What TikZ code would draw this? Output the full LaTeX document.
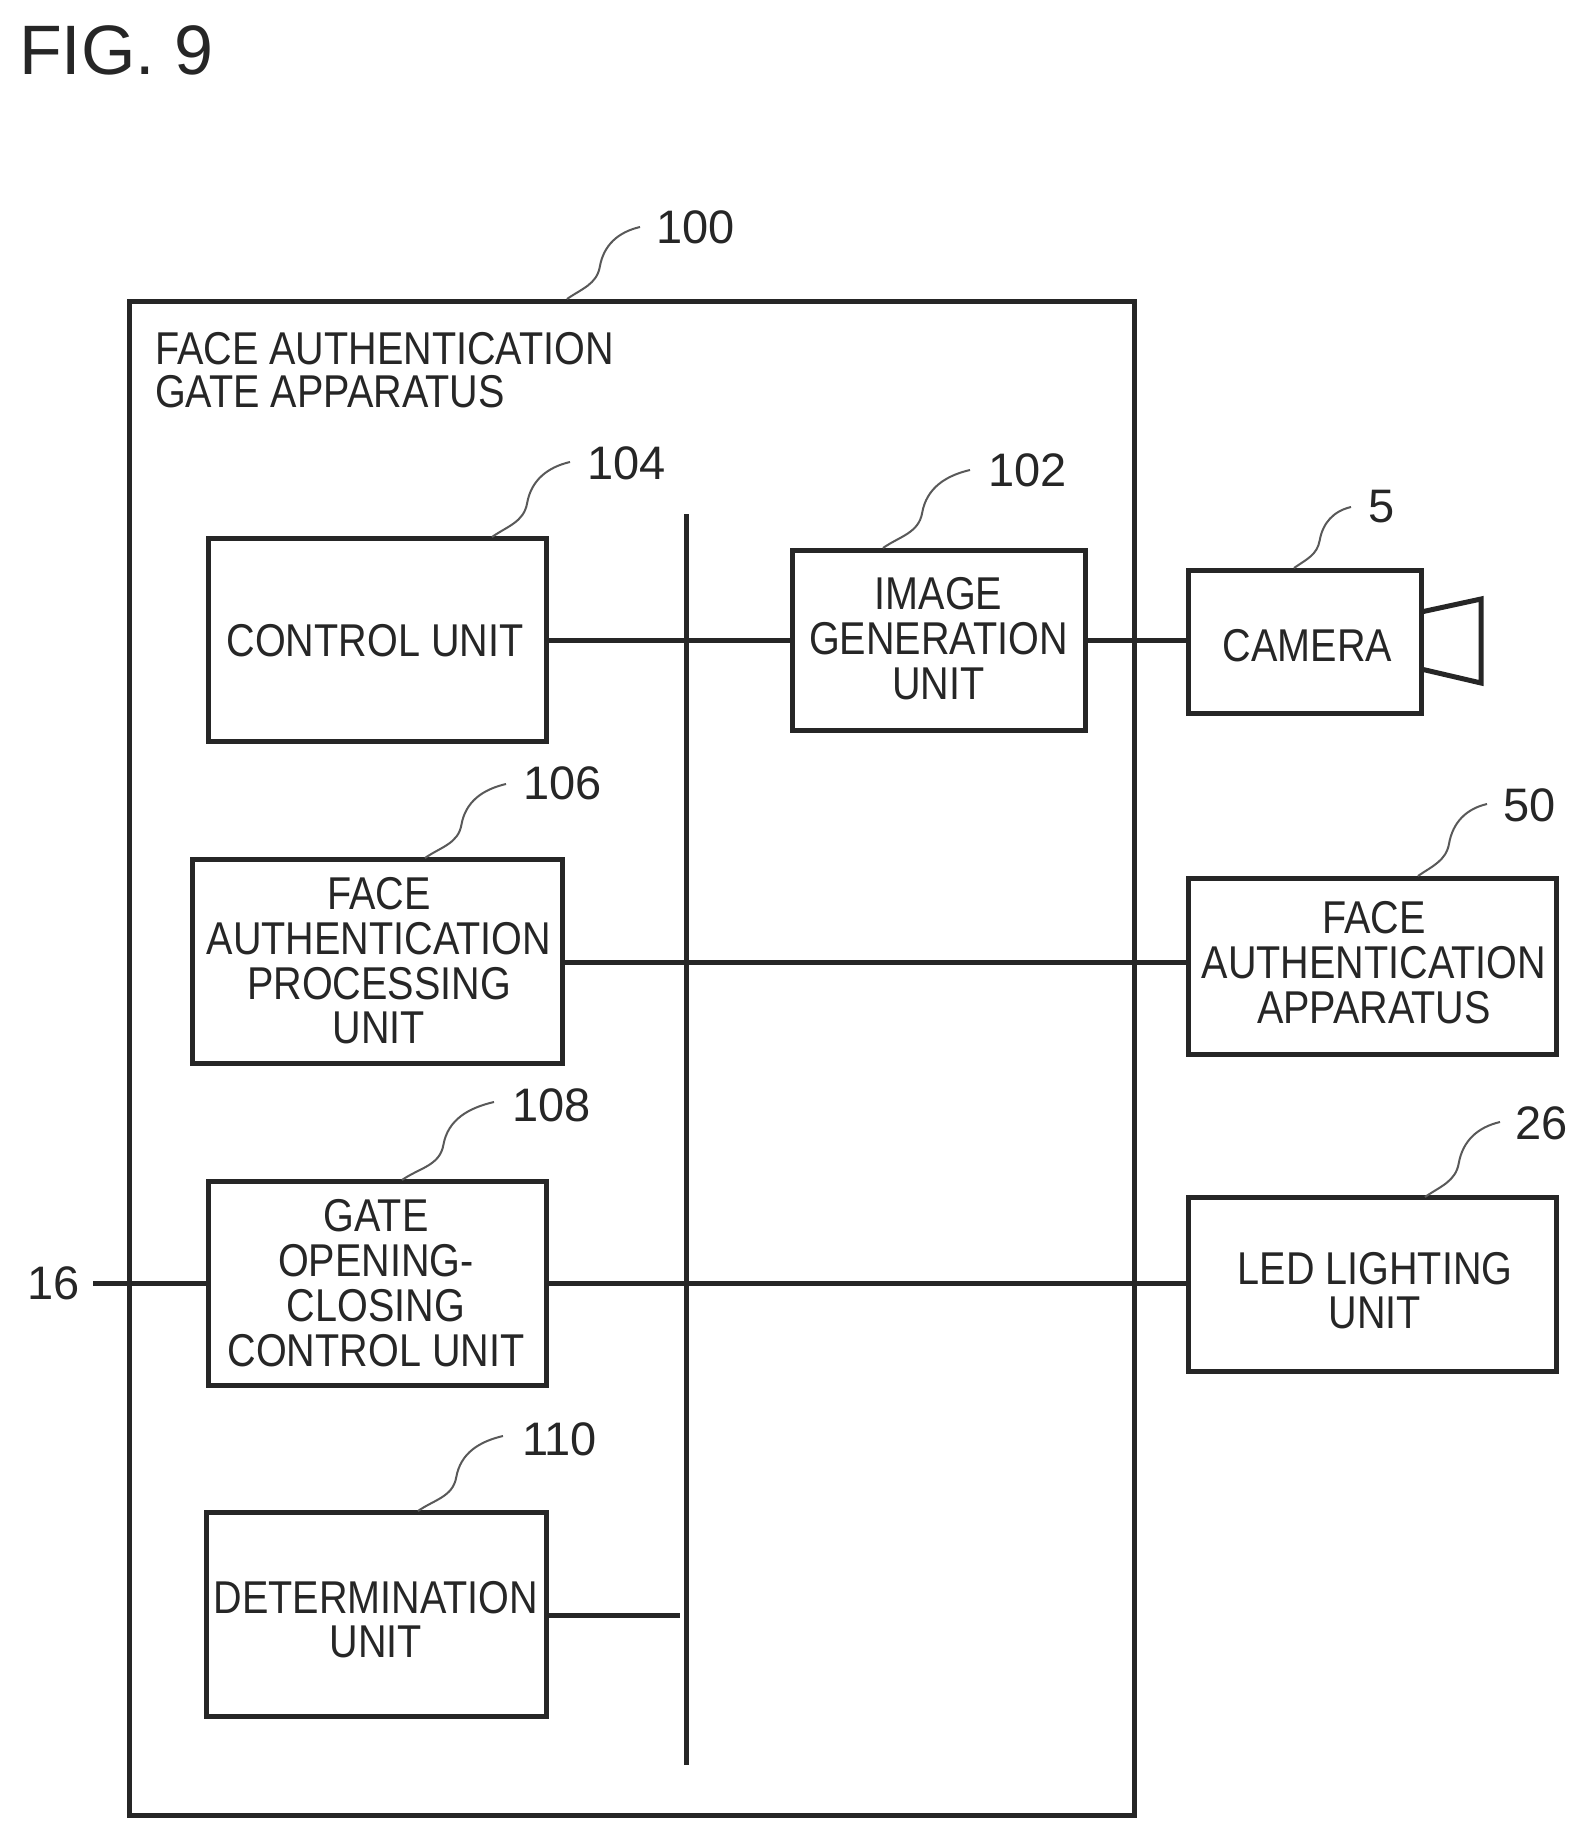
\documentclass[tikz,border=0pt]{standalone}
\usepackage{fontspec}
\setmainfont[FakeStretch=0.86]{Liberation Sans}
\newfontfamily\numfont{Liberation Sans}
\usetikzlibrary{calc}
\renewcommand{\arraystretch}{0.97}
\tikzset{
  x=1pt,y=-1pt,
  boxed/.style={draw=black!85,line width=5pt,inner sep=0pt,outer sep=0pt,font=\fontsize{46}{44}\selectfont,text=black!85},
  conn/.style={draw=black!85,line width=5pt},
  leaderline/.style={draw=black!65,line width=2pt},
  refnum/.style={font=\numfont\fontsize{47}{47}\selectfont,text=black!85,inner sep=0pt},
}
\newcommand{\boxat}[8]{% name, l, t, r, b, text dx, text dy, text
  \node[boxed,minimum width=#4pt-#2pt,minimum height=#5pt-#3pt,anchor=north west] (#1) at (#2,#3)
    {\hspace*{#6pt}\raisebox{#7pt}[\height][\depth]{\begin{tabular}{@{}c@{}}#8\end{tabular}}\hspace*{-#6pt}};}
\newcommand{\leaderto}[6]{% number, sx, sy, ex, ey, number position
  \coordinate (#1s) at (#2,#3);
  \coordinate (#1e) at (#4,#5);
  \coordinate (#1m) at ($(#1s)!.45!(#1e)$);
  \draw[leaderline] (#1s) to[out=35,in=-100] (#1m) to[out=80,in=193] (#1e);
  \node[refnum,anchor=west] (#1n) at (#6) {#1};}
\begin{document}
\begin{tikzpicture}
\useasboundingbox (0,0) rectangle (1586,1837);
\node[font=\numfont\fontsize{70}{70}\selectfont,text=black!85,anchor=west,inner sep=0pt] (fig) at (19,50) {FIG. 9};

\boxat{outer}{129}{301}{1134}{1815}{0}{0}{}
\node[font=\fontsize{46}{43}\selectfont,text=black!85,align=left,anchor=north west,inner sep=0pt] (outertxt) at (155,332) {FACE AUTHENTICATION\\GATE APPARATUS};

\coordinate (bustop) at (686,514);
\coordinate (busbot) at (686,1765);
\draw[conn] (bustop) -- (busbot);

\boxat{ctrl}{208}{538}{546}{741}{-2}{-7}{CONTROL UNIT}
\boxat{img}{792}{550}{1085}{730}{0}{-5}{IMAGE\\GENERATION\\UNIT}
\boxat{cam}{1188}{570}{1421}{713}{3}{-10}{CAMERA}
\boxat{proc}{192}{859}{562}{1063}{2}{-6}{FACE\\AUTHENTICATION\\PROCESSING\\UNIT}
\boxat{fapp}{1188}{878}{1556}{1054}{2}{-3}{FACE\\AUTHENTICATION\\APPARATUS}
\boxat{gate}{208}{1181}{546}{1385}{-1}{-6}{GATE\\OPENING-\\CLOSING\\CONTROL UNIT}
\boxat{led}{1188}{1197}{1556}{1371}{3}{-13}{LED LIGHTING\\UNIT}
\boxat{det}{206}{1512}{546}{1716}{0}{-12}{DETERMINATION\\UNIT}

\coordinate (lensA) at (1421,612);
\coordinate (lensB) at (1481,599);
\coordinate (lensC) at (1481,683);
\coordinate (lensD) at (1421,669);
\draw[conn] (lensA) -- (lensB) -- (lensC) -- (lensD);

\draw[conn] (ctrl.east |- 0,640) -- (img.west |- 0,640);
\draw[conn] (img.east |- 0,640) -- (cam.west |- 0,640);
\draw[conn] (proc.east |- 0,962) -- (fapp.west |- 0,962);
\draw[conn] (gate.east |- 0,1283) -- (led.west |- 0,1283);
\node[refnum,anchor=east] (n16) at (80,1283) {16};
\coordinate (f16) at (93,1283);
\draw[conn] (f16) -- (gate.west |- 0,1283);
\coordinate (detend) at (680,1615);
\draw[conn] (det.east |- 0,1615) -- (detend);

\leaderto{100}{567}{299}{640}{227}{656,227}
\leaderto{104}{492}{537}{570}{462}{587,463}
\leaderto{102}{883}{548}{970}{470}{988,470}
\leaderto{5}{1294}{568}{1351}{507}{1368,507}
\leaderto{106}{425}{858}{506}{784}{523,783}
\leaderto{50}{1418}{876}{1487}{804}{1503,805}
\leaderto{108}{402}{1180}{494}{1102}{512,1105}
\leaderto{26}{1425}{1197}{1500}{1122}{1515,1123}
\leaderto{110}{418}{1511}{503}{1436}{522,1439}
\end{tikzpicture}
\end{document}
